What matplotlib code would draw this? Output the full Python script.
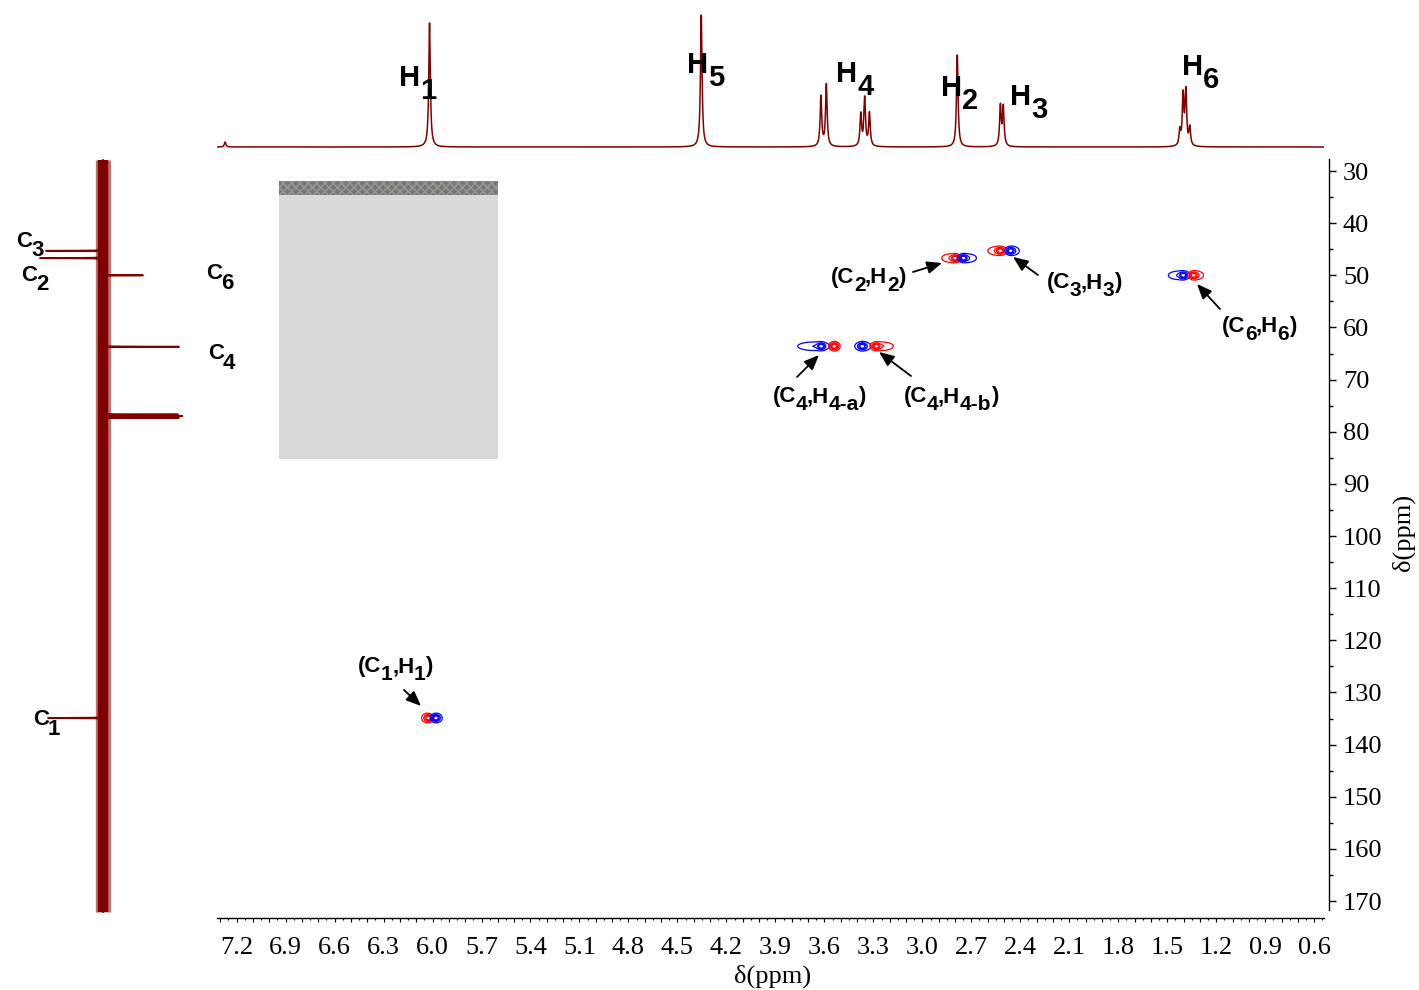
import numpy as np
import matplotlib
matplotlib.use('Agg')
import matplotlib.pyplot as plt
from matplotlib.ticker import MultipleLocator, FuncFormatter
from matplotlib.patches import Rectangle
from matplotlib import font_manager

# ---------------- data ----------------
# 1H spectrum (top trace): peak positions (ppm) and heights
h_peak_ppm = [7.27, 6.018, 4.354, 3.621, 3.588, 3.377, 3.353, 3.324,
              2.786, 2.522, 2.504, 1.423, 1.403, 1.386, 1.362]
h_peak_int = [5, 124, 132, 50, 62, 32, 48, 33, 92, 40, 39, 15, 50, 54, 18]

# 13C spectrum (left trace): peak positions (ppm) and signed intensities
c_peak_ppm = [45.3, 46.7, 50.0, 63.7, 76.7, 77.0, 77.3, 134.9]
c_peak_int = [-57, -63, 40, 76, 74, 78, 75, -55]

# HSQC cross-peak lobes: sign (+1 blue / -1 red), core 1H ppm,
# lobe extent (1H ppm, high / low edge), 13C ppm
lobe_sign = [-1, 1, -1, 1, -1, 1, 1, -1, 1, -1, 1, -1]
lobe_core = [6.024, 5.981, 2.798, 2.749, 2.522, 2.461, 1.401, 1.340, 3.619, 3.539, 3.368, 3.282]
lobe_high = [6.066, 6.004, 2.881, 2.780, 2.599, 2.485, 1.493, 1.364, 3.763, 3.566, 3.413, 3.314]
lobe_low = [6.004, 5.943, 2.767, 2.669, 2.485, 2.406, 1.364, 1.278, 3.566, 3.509, 3.314, 3.178]
lobe_c = [134.9, 134.9, 46.7, 46.7, 45.3, 45.3, 50.0, 50.0, 63.6, 63.6, 63.6, 63.6]

x_tick_step = 0.3
y_tick_step = 10

# ---------------- figure ----------------
W, H = 1419, 990
plt.rcParams['font.family'] = ['Liberation Serif', 'DejaVu Serif']
fig = plt.figure(figsize=(W / 100, H / 100), dpi=100)


def fx(px):
    return px / W


def fy(py):
    return 1 - py / H


names = {f.name for f in font_manager.fontManager.ttflist}
narrow = 'Liberation Sans Narrow' in names
lab_font = ['Liberation Sans Narrow', 'Liberation Sans'] if narrow else ['Liberation Sans']

XLIM = (7.32, 0.54)
YLIM = (173.26, 27.5)
SPEC = '#800000'

# top 1H trace
axT = fig.add_axes([fx(217), fy(150), fx(1324) - fx(217), (150 - 5) / H])
xh = np.arange(0.54, 7.32, 0.0005)
gam = 0.0058
yh = np.zeros_like(xh)
for p, a in zip(h_peak_ppm, h_peak_int):
    yh += a * gam ** 2 / ((xh - p) ** 2 + gam ** 2)
axT.plot(xh, yh, color=SPEC, lw=1.1)
axT.set_xlim(*XLIM)
axT.set_ylim(-3, 142)
axT.axis('off')

# left 13C trace
axL = fig.add_axes([0, fy(918), fx(217), (918 - 158) / H])
axL.plot([0, 0], [27.9, 172.1], color=SPEC, lw=11, alpha=0.55, solid_capstyle='butt')
axL.plot([0, 0], [27.9, 172.1], color=SPEC, lw=7.5, solid_capstyle='butt')
yc = np.arange(27.9, 172.1, 0.005)
gc = 0.03
ic = np.zeros_like(yc)
for p, a in zip(c_peak_ppm, c_peak_int):
    ic += a * gc ** 2 / ((yc - p) ** 2 + gc ** 2)
axL.plot(ic, yc, color=SPEC, lw=1.3)
axL.set_xlim(-103, 114)
axL.set_ylim(*YLIM)
axL.axis('off')

# main HSQC axes
ax = fig.add_axes([fx(217), fy(918), fx(1324) - fx(217), (918 - 158) / H])
ax.set_xlim(*XLIM)
ax.set_ylim(*YLIM)
ax.patch.set_alpha(0)

levels = [0.1, 0.3, 0.55, 0.8]
for s, core, hi, lo, c in zip(lobe_sign, lobe_core, lobe_high, lobe_low, lobe_c):
    hh = np.linspace(hi + 0.03, lo - 0.03, 260)
    cc = np.linspace(c - 3, c + 3, 140)
    HH, CC = np.meshgrid(hh, cc)
    tail_c = (hi + lo) / 2
    tail_w = (hi - lo) / 2 / 1.48
    Z = (np.exp(-((HH - core) ** 2) / (2 * 0.014 ** 2) - ((CC - c) ** 2) / (2 * 0.35 ** 2))
         + 0.3 * np.exp(-((HH - tail_c) ** 2) / (2 * tail_w ** 2) - ((CC - c) ** 2) / (2 * 0.55 ** 2)))
    ax.contour(HH, CC, Z, levels=levels, colors='#0000ff' if s > 0 else '#ff0000', linewidths=0.9)

for k in ['left', 'top']:
    ax.spines[k].set_visible(False)
ax.spines['right'].set_position(('outward', 3.6))
ax.spines['right'].set_bounds(27.7, 171.7)
ax.spines['right'].set_linewidth(1.0)
ax.spines['bottom'].set_linewidth(1.0)
ax.yaxis.tick_right()
ax.yaxis.set_major_locator(MultipleLocator(y_tick_step))
ax.yaxis.set_minor_locator(MultipleLocator(y_tick_step / 2))
ax.xaxis.set_major_locator(MultipleLocator(0.1))
ax.xaxis.set_minor_locator(MultipleLocator(0.05))


def xfmt(v, pos):
    n = int(round(v * 10))
    return '%.1f' % v if n % int(round(x_tick_step * 10)) == 0 else ''


ax.xaxis.set_major_formatter(FuncFormatter(xfmt))
ax.tick_params(axis='y', which='major', direction='out', length=5, width=1, pad=5, labelsize=19)
ax.tick_params(axis='y', which='minor', direction='out', length=3, width=1)
ax.tick_params(axis='x', which='major', direction='out', length=3, width=0.8, pad=11, labelsize=19)
ax.tick_params(axis='x', which='minor', direction='out', length=1.7, width=0.8)

fig.text(fx(773), fy(976), 'δ(ppm)', ha='center', va='center', fontsize=19)
fig.text(fx(1403), fy(532), 'δ(ppm)', ha='center', va='center', fontsize=19, rotation=90)

# grey placeholder box
fig.add_artist(Rectangle((fx(279), fy(459)), fx(498) - fx(279), (459 - 181) / H,
                         transform=fig.transFigure, facecolor='#d9d9d9', edgecolor='none', zorder=3))
fig.add_artist(Rectangle((fx(279), fy(195)), fx(498) - fx(279), (195 - 181) / H,
                         transform=fig.transFigure, facecolor='#7d7480', edgecolor='#8fa08a',
                         hatch='xxxx', linewidth=0, zorder=4))

# labels
renderer = fig.canvas.get_renderer()


def chain(x, base, segs, size, sub_size, drop, gap=0.0):
    cx = x
    for s, sub in segs:
        t = fig.text(fx(cx), fy(base + (drop if sub else 0)), s,
                     fontsize=sub_size if sub else size, fontweight='bold',
                     family=lab_font, ha='left', va='baseline', zorder=6)
        cx += t.get_window_extent(renderer).width + gap


HS = 22.5 if narrow else 21
h_label_pos = [(399, 86), (687, 73), (836, 82), (941, 96), (1010, 105), (1182, 75)]
h_label_sub = ['1', '5', '4', '2', '3', '6']
for (px, py), sb in zip(h_label_pos, h_label_sub):
    chain(px, py, [('H', 0), (sb, 1)], HS, HS, 13, 0)

c_label_pos = [(16, 247), (21, 281), (206, 279), (208, 359), (33, 725)]
c_label_drop = [9, 9, 10, 10, 10]
c_label_sub = ['3', '2', '6', '4', '1']
for (px, py), sb, dr in zip(c_label_pos, c_label_sub, c_label_drop):
    chain(px, py, [('C', 0), (sb, 1)], 16, 16, dr, -1)

x_label_pos = [(358, 672), (831, 283), (1047, 288), (1222, 332), (773, 402), (904, 402)]
x_label_sub = [('1', '1'), ('2', '2'), ('3', '3'), ('6', '6'), ('4', '4-a'), ('4', '4-b')]
for (px, py), (a, b) in zip(x_label_pos, x_label_sub):
    chain(px, py, [('(C', 0), (a, 1), (',H', 0), (b, 1), (')', 0)], 16, 15, 8, -0.5)

arrows = [((404, 690), (421, 706)), ((913, 272), (942, 263)), ((1038, 275), (1013, 257)),
          ((1220, 309), (1197, 284)), ((797, 377), (819, 355)), ((911, 376), (879, 352))]
for (tx, ty), (hx, hy) in arrows:
    ax.annotate('', xy=(fx(hx), fy(hy)), xycoords='figure fraction',
                xytext=(fx(tx), fy(ty)), textcoords='figure fraction',
                arrowprops=dict(arrowstyle='-|>,head_length=0.6,head_width=0.25',
                                mutation_scale=15, color='k', lw=1.3,
                                shrinkA=0, shrinkB=0))

fig.savefig('out.png', dpi=100)
